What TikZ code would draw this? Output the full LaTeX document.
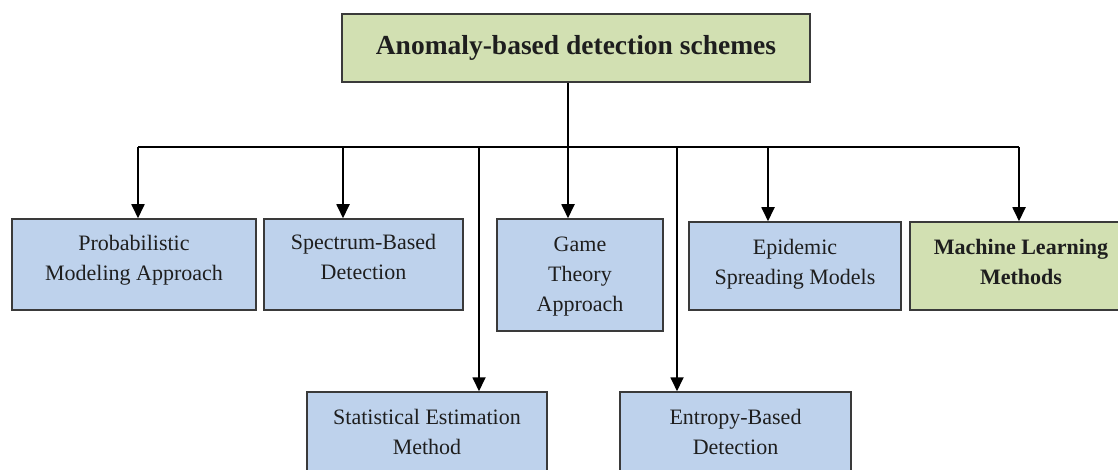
\documentclass[tikz,border=0pt]{standalone}
\usepackage{fontspec}
\setmainfont{Liberation Serif}
\usetikzlibrary{arrows.meta}

\definecolor{boxblue}{HTML}{BED2EC}
\definecolor{boxgreen}{HTML}{D2E0B2}
\definecolor{boxline}{HTML}{3A3A3A}
\definecolor{ink}{HTML}{1E1E1E}

\tikzset{
  scheme/.style={draw=boxline, line width=1.5pt, rectangle, inner sep=0pt,
    align=center, text=ink, font=\fontsize{22}{30}\selectfont},
  bluebox/.style={scheme, fill=boxblue},
  greenbox/.style={scheme, fill=boxgreen},
  link/.style={line width=1.8pt, draw=black},
  arrowlink/.style={link, -{Triangle[width=13pt,length=14pt]}},
}

\begin{document}
\begin{tikzpicture}[x=1pt, y=-1pt]
  \useasboundingbox[fill=white] (0,0) rectangle (1118,470);

  % root of the hierarchy
  \node[greenbox, minimum width=468pt, minimum height=68pt,
        font=\fontsize{27.5}{32}\selectfont\bfseries] (root) at (576,48)
        {Anomaly-based detection schemes};

  % upper row of schemes (text depth sets how high the text block sits)
  \node[bluebox, minimum width=244pt, minimum height=91pt, text depth=12.8pt] (prob) at (134,264.5)
        {Probabilistic\\Modeling Approach};
  \node[bluebox, minimum width=199pt, minimum height=91pt, text depth=16pt] (spec) at (363.5,264.5)
        {Spectrum-Based\\Detection};
  \node[bluebox, minimum width=166pt, minimum height=112pt, text depth=0.8pt] (game) at (580,275)
        {Game\\Theory\\Approach};
  \node[bluebox, minimum width=212pt, minimum height=88pt, text depth=8.8pt] (epid) at (795,266)
        {Epidemic\\Spreading Models};
  \node[greenbox, minimum width=222pt, minimum height=88pt, text depth=8pt,
        font=\fontsize{22}{30}\selectfont\bfseries] (mlearn) at (1021,266)
        {Machine Learning\\Methods};

  % lower row of schemes
  \node[bluebox, minimum width=240pt, minimum height=80pt] (stat) at (427,432)
        {Statistical Estimation\\Method};
  \node[bluebox, minimum width=231pt, minimum height=80pt] (entr) at (735.5,432)
        {Entropy-Based\\Detection};

  % distribution bus
  \coordinate (bprob) at (138,147);
  \coordinate (bspec) at (343,147);
  \coordinate (bstat) at (479,147);
  \coordinate (bgame) at (568,147);
  \coordinate (bentr) at (677,147);
  \coordinate (bepid) at (768,147);
  \coordinate (bml)   at (1019,147);

  \draw[link] (root.south -| bgame) -- (bgame);
  \draw[link] (bprob) -- (bml);

  \draw[arrowlink] (bprob) -- (prob.north -| bprob);
  \draw[arrowlink] (bspec) -- (spec.north -| bspec);
  \draw[arrowlink] (bstat) -- (stat.north -| bstat);
  \draw[arrowlink] (bgame) -- (game.north -| bgame);
  \draw[arrowlink] (bentr) -- (entr.north -| bentr);
  \draw[arrowlink] (bepid) -- (epid.north -| bepid);
  \draw[arrowlink] (bml)   -- (mlearn.north -| bml);
\end{tikzpicture}
\end{document}
